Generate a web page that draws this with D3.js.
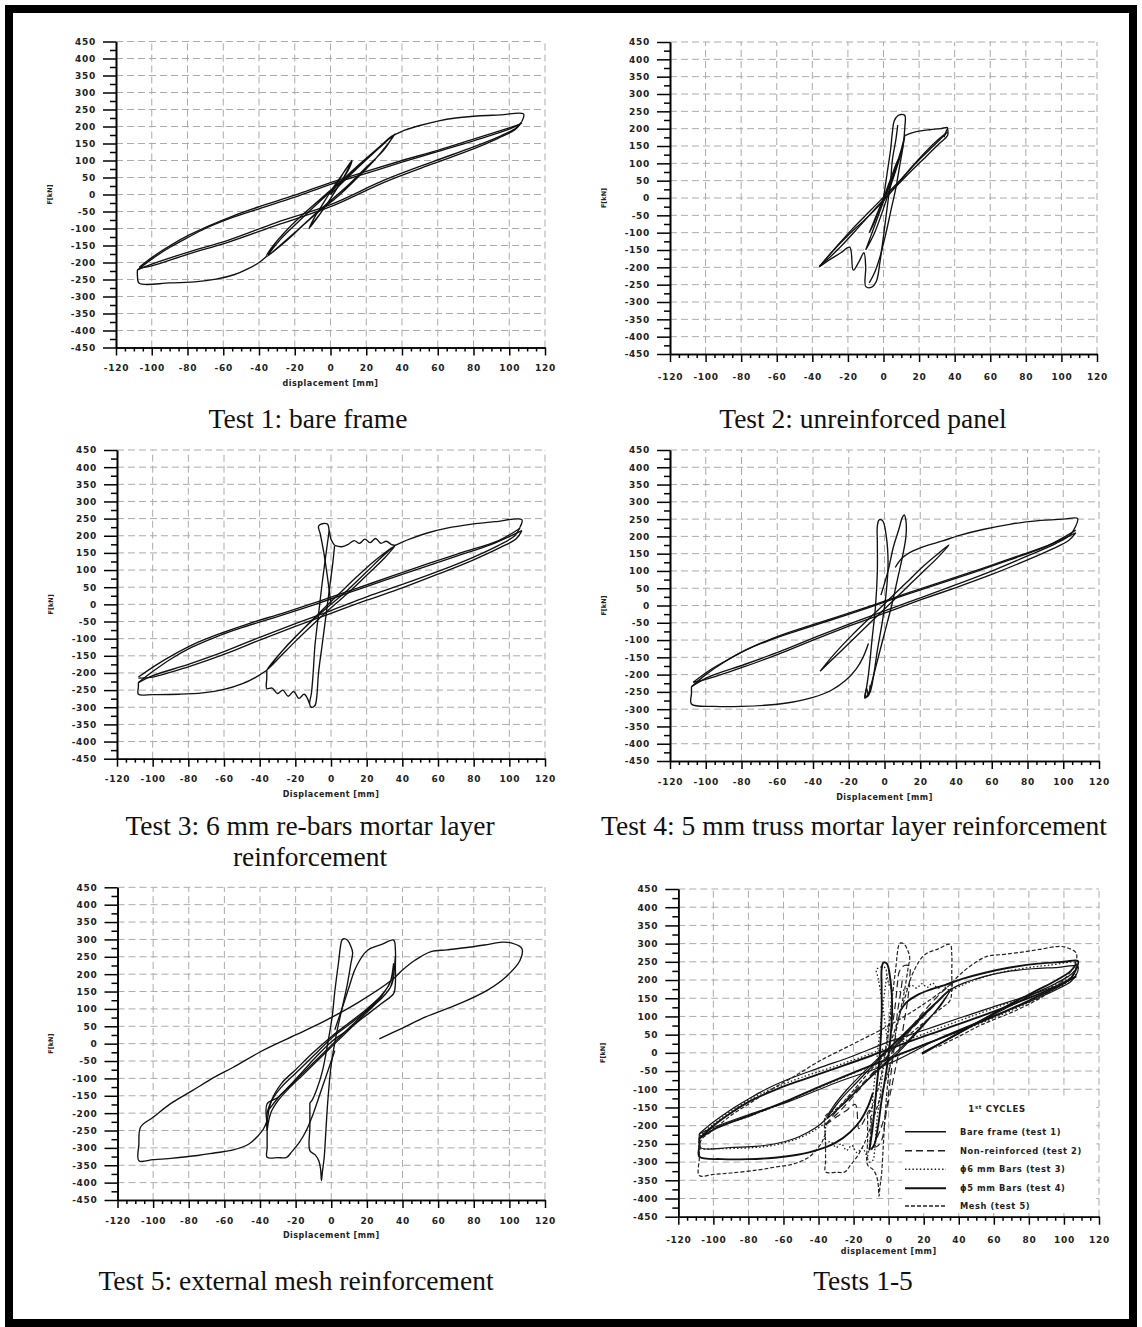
<!DOCTYPE html>
<html><head><meta charset="utf-8">
<script src="https://cdn.jsdelivr.net/npm/d3@7"></script>
<style>body{margin:0;background:#fff}svg{display:block}</style>
</head><body>
<svg id="c" width="1142" height="1327"></svg>
<script>
// ---------- tick labels ----------
const forceTicks = [-450,-400,-350,-300,-250,-200,-150,-100,-50,0,50,100,150,200,250,300,350,400,450];
const dispTicks = [-120,-100,-80,-60,-40,-20,0,20,40,60,80,100,120];

// ---------- Test 1: bare frame (displacement mm, force kN) ----------
const t1Tiny = [[0,0],[4,35],[8,70],[12,100],[10,72],[6,38],[2,5],[-2,-28],[-6,-58],[-10,-85],[-12,-100],[-9,-68],[-5,-34],[-1,0],[3,32],[7,62],[11,92],[12,100],[9,66],[5,30],[1,-4],[-3,-36],[-7,-66],[-11,-94]];
const t1Small = [[0,0],[10,52],[20,102],[30,150],[36,178],[32,148],[24,98],[14,44],[4,-6],[-6,-48],[-16,-94],[-26,-142],[-36,-183],[-32,-150],[-24,-102],[-14,-52],[-4,-6],[6,40],[16,88],[26,134],[35,174],[30,132],[20,80],[10,28],[0,-18],[-10,-64],[-20,-112],[-30,-158],[-35,-180],[-28,-132],[-18,-80],[-8,-30],[2,18],[12,64],[22,112],[32,160],[36,176]];
const t1BackPos = [[36,176],[42,190],[50,203],[60,216],[70,225],[82,231],[95,234],[108,237],[107,214]];
const t1BackNeg = [[-36,-183],[-40,-200],[-46,-218],[-54,-236],[-64,-249],[-76,-257],[-90,-260],[-107,-261],[-108,-240],[-108,-222]];
const t1Up1 = [[-108,-222],[-100,-190],[-90,-156],[-80,-127],[-70,-100],[-57,-72],[-40,-42],[-20,-8],[0,30],[20,62],[40,95],[57,122],[80,158],[100,192],[107,210]];
const t1Up2 = [[-107,-214],[-99,-182],[-89,-148],[-79,-119],[-68,-92],[-55,-64],[-40,-36],[-20,-2],[0,35],[20,68],[40,100],[60,130],[80,163],[100,196],[106,206]];
const t1Lo1 = [[107,214],[104,196],[95,172],[80,140],[57,96],[30,42],[0,-30],[-30,-82],[-57,-134],[-80,-170],[-100,-205],[-108,-222]];
const t1Lo2 = [[106,206],[103,190],[94,166],[80,134],[57,90],[30,36],[0,-36],[-30,-90],[-57,-140],[-80,-176],[-100,-210],[-107,-216]];
const t1Final = [[108,237],[104,215],[95,190],[82,160],[68,125],[52,85],[38,48],[26,18],[19,0]];

// ---------- Test 2: unreinforced panel ----------
const t2Tall = [[0,0],[2,70],[4,140],[5,190],[6,222],[8,237],[10,241],[12,238],[12,205],[11,150],[9,90],[7,30],[4,-40],[1,-110],[-2,-170],[-5,-215],[-8,-245]];
const t2Notch = [[-36,-198],[-30,-177],[-24,-158],[-19,-142],[-17,-208],[-14,-186],[-11,-158],[-10,-200],[-10,-255],[-7,-258],[-4,-240],[-2,-185],[0,-110],[2,-30],[4,50],[5,110],[7,170],[8,210]];
const t2Lens1 = [[-36,-198],[-28,-150],[-20,-108],[-12,-70],[-6,-40],[0,-8],[8,40],[16,90],[24,135],[30,165],[36,190]];
const t2Lens2 = [[36,200],[36,180],[32,160],[24,120],[16,80],[8,38],[0,-5],[-8,-50],[-16,-96],[-24,-140],[-30,-170],[-36,-196]];
const t2Lens3 = [[-35,-192],[-26,-138],[-18,-92],[-10,-50],[0,2],[10,55],[20,110],[28,150],[35,185]];
const t2Top = [[12,180],[16,188],[20,193],[26,197],[32,200],[36,203],[35,190],[34,175]];
const t2Mid = [[-10,-150],[-5,-80],[0,-10],[5,60],[10,140],[12,180],[10,130],[5,50],[0,-30],[-5,-100],[-10,-150]];
const t2Small = [[-8,-100],[-4,-50],[0,0],[4,55],[8,110],[6,70],[2,20],[-2,-30],[-6,-80],[-8,-100]];

// ---------- Test 3: 6 mm re-bars ----------
const t3Tall = [[0,0],[-2,80],[-4,150],[-6,205],[-7,228],[-5,235],[-2,234],[-1,215],[0,190],[2,172]];
const t3PlatPos = [[2,172],[6,168],[10,176],[13,186],[16,178],[19,190],[22,180],[25,192],[28,178],[31,184],[34,174],[36,172]];
const t3TallDown = [[-1,215],[-3,140],[-5,60],[-7,-30],[-9,-120],[-10,-200],[-11,-260],[-12,-290],[-11,-300],[-9,-295],[-8,-270],[-7,-200],[-5,-120],[-3,-40],[-1,40],[1,120],[2,170]];
const t3PlatNeg = [[-12,-290],[-15,-262],[-18,-274],[-21,-254],[-24,-268],[-27,-250],[-30,-260],[-33,-244],[-36,-246],[-36,-215],[-36,-192]];
const t3Lens = [[-36,-192],[-28,-140],[-20,-95],[-10,-45],[0,0],[10,45],[20,95],[30,145],[36,172],[30,135],[20,85],[10,35],[0,-10],[-10,-58],[-20,-108],[-28,-150],[-36,-192],[-26,-128],[-16,-74],[-6,-22],[4,28],[14,78],[24,125],[34,165]];
const t3BackPos = [[36,172],[44,190],[54,208],[65,222],[78,233],[92,241],[107,247],[106,225]];
const t3BackNeg = [[-36,-192],[-42,-212],[-50,-232],[-60,-248],[-72,-258],[-85,-262],[-100,-263],[-108,-262],[-108,-240],[-108,-228]];
const t3Up1 = [[-108,-228],[-100,-196],[-90,-160],[-78,-125],[-65,-96],[-50,-68],[-30,-36],[-10,-2],[10,34],[30,70],[50,105],[70,140],[90,175],[107,215]];
const t3Up2 = [[-108,-212],[-99,-180],[-88,-146],[-76,-114],[-62,-85],[-46,-56],[-26,-24],[-6,10],[14,46],[34,82],[54,118],[74,152],[94,186],[106,222]];
const t3Lo1 = [[106,225],[103,200],[94,172],[80,138],[60,96],[40,58],[20,22],[0,-18],[-20,-56],[-40,-96],[-60,-138],[-80,-175],[-100,-208],[-108,-228]];
const t3Lo2 = [[107,215],[104,192],[95,166],[80,130],[60,88],[40,48],[20,12],[0,-26],[-20,-64],[-40,-104],[-60,-146],[-80,-182],[-100,-212],[-108,-215]];

// ---------- Test 4: 5 mm truss ----------
const t4TallA = [[-11,-268],[-9,-200],[-7,-100],[-5,0],[-4,100],[-4,180],[-4,230],[-3,248],[-1,245],[1,200],[2,120],[1,40],[-1,-40],[-4,-130],[-6,-200],[-8,-250],[-10,-266]];
const t4TallB = [[-2,30],[2,100],[5,170],[8,220],[10,255],[11,262],[12,245],[12,200],[10,140],[7,70],[4,0],[0,-80],[-4,-160],[-7,-220],[-9,-255],[-11,-268],[-10,-240],[-9,-262],[-8,-230]];
const t4Lens = [[-36,-190],[-28,-140],[-18,-85],[-8,-35],[2,15],[12,65],[22,115],[30,150],[36,175],[30,140],[20,90],[10,40],[0,-10],[-10,-60],[-20,-110],[-30,-160],[-36,-190]];
const t4BackPos = [[6,110],[10,138],[16,158],[24,174],[32,186],[42,203],[55,220],[70,235],[85,245],[100,250],[108,252],[107,230]];
const t4BackNeg = [[-9,-110],[-12,-150],[-16,-185],[-22,-218],[-30,-246],[-40,-266],[-52,-280],[-65,-288],[-80,-292],[-95,-292],[-108,-285],[-108,-255],[-108,-235]];
const t4Up1 = [[-108,-235],[-100,-200],[-90,-165],[-78,-130],[-64,-100],[-48,-72],[-30,-42],[-10,-8],[10,28],[30,62],[50,96],[70,132],[90,170],[107,210]];
const t4Up2 = [[-107,-222],[-98,-188],[-86,-152],[-74,-120],[-60,-90],[-44,-62],[-26,-32],[-6,2],[14,38],[34,72],[54,106],[74,142],[94,180],[107,218]];
const t4Lo1 = [[107,230],[104,205],[96,180],[82,148],[62,104],[42,64],[22,26],[2,-12],[-18,-50],[-38,-90],[-58,-132],[-78,-170],[-98,-206],[-108,-235]];
const t4Lo2 = [[107,210],[103,188],[94,164],[80,132],[60,90],[40,52],[20,16],[0,-22],[-20,-60],[-40,-100],[-60,-142],[-80,-180],[-100,-214],[-107,-222]];
const t4Final = [[107,245],[104,225],[96,200],[84,170],[70,135],[55,95],[40,55],[28,22],[19,-3]];

// ---------- Test 5: external mesh ----------
const t5Big = [[-36,-221],[-38,-245],[-41,-265],[-46,-288],[-55,-306],[-65,-314],[-75,-322],[-90,-330],[-100,-334],[-108,-337],[-108,-290],[-107,-240],[-100,-212],[-90,-172],[-78,-135],[-65,-95],[-55,-68],[-40,-24],[-20,25],[-3,67],[15,118],[34,183],[40,212],[47,240],[56,265],[65,270],[75,276],[86,284],[96,292],[101,290],[107,274],[106,240],[98,192],[88,155],[72,115],[53,77],[40,45],[27,14]];
const t5Cyc36 = [[2,40],[6,100],[10,163],[13,210],[16,240],[19,262],[22,274],[28,285],[35,298],[36,270],[36,220],[36,175],[35,144],[28,115],[18,75],[8,35],[0,5],[-8,-35],[-16,-80],[-24,-125],[-30,-155],[-36,-173],[-36,-240],[-36,-300],[-36,-327],[-30,-328],[-25,-327],[-22,-310],[-18,-285],[-14,-250],[-10,-200],[-6,-140],[-2,-80],[2,-20]];
const t5Lens1 = [[-36,-250],[-34,-200],[-30,-165],[-24,-130],[-16,-90],[-8,-50],[0,-10],[8,30],[16,70],[24,110],[30,140],[34,170],[36,250],[35,200],[33,160],[28,130],[20,95],[10,55],[0,15],[-10,-35],[-20,-85],[-28,-125],[-33,-160],[-36,-200],[-36,-250]];
const t5Lens2 = [[-35,-190],[-28,-145],[-20,-105],[-10,-55],[0,-5],[10,45],[20,95],[28,135],[34,190],[35,230],[33,175],[28,138],[20,100],[10,60],[0,20],[-10,-25],[-20,-75],[-28,-115],[-34,-170],[-36,-230]];
const t5Tall = [[-12,-170],[-12,-240],[-12,-308],[-9,-320],[-7,-337],[-6,-360],[-5.5,-394],[-5,-370],[-4,-330],[-3,-250],[-2,-170],[0,-60],[3,30],[6,100],[9,170],[11,230],[12,262],[11,280],[9,298],[7,302],[6,298],[4,230],[2,150],[0.5,77],[-2,0],[-5,-80],[-8,-130],[-11,-165],[-12,-170]];

// ---------- grouping ----------
const test1Paths = [t1Tiny,t1Small,t1BackPos,t1BackNeg,t1Up1,t1Up2,t1Lo1,t1Lo2];
const test2Paths = [t2Tall,t2Notch,t2Lens1,t2Lens2,t2Lens3,t2Top,t2Mid,t2Small];
const test3Paths = [t3Tall,t3PlatPos,t3TallDown,t3PlatNeg,t3Lens,t3BackPos,t3BackNeg,t3Up1,t3Up2,t3Lo1,t3Lo2];
const test4Paths = [t4TallA,t4TallB,t4Lens,t4BackPos,t4BackNeg,t4Up1,t4Up2,t4Lo1,t4Lo2];
const test5Paths = [t5Big,t5Cyc36,t5Lens1,t5Lens2,t5Tall];

const first1 = [t1Small,t1BackPos,t1BackNeg,t1Up1,t1Lo1,t1Final];
const first2 = [t2Tall,t2Notch,t2Lens1,t2Lens2];
const first3 = [t3Tall,t3PlatPos,t3TallDown,t3PlatNeg,t3BackPos,t3BackNeg,t3Up1,t3Lo1];
const first4 = [t4TallA,t4BackPos,t4BackNeg,t4Up1,t4Lo1,t4Final];
const first5 = [t5Big,t5Cyc36,t5Tall];

const legendNames = ['Bare frame (test 1)','Non-reinforced (test 2)','\u03d56 mm Bars (test 3)','\u03d55 mm Bars (test 4)','Mesh (test 5)'];

const styles = {
  plain:{w:1.35,dash:null,c:'#111'},
  s1:{w:1.2,dash:null,c:'#111'},
  s2:{w:1.2,dash:'7,4',c:'#222'},
  s3:{w:1.3,dash:'1.5,2.2',c:'#222'},
  s4:{w:1.9,dash:null,c:'#111'},
  s5:{w:1.2,dash:'4,2',c:'#222'}
};

const panels = [
  {x0:116,x1:545,y0:41.5,y1:347.5,fx:50,xl:'displacement [mm]',xlDy:36,tkDy:20,title:['Test 1: bare frame'],tx:308,ty:[428],
   series:[{paths:test1Paths,st:'plain'}]},
  {x0:670,x1:1097,y0:42,y1:354,fx:604,xl:null,xlDy:36,tkDy:23,title:['Test 2: unreinforced panel'],tx:863,ty:[428],
   series:[{paths:test2Paths,st:'plain'}]},
  {x0:117,x1:545,y0:450,y1:758.7,fx:51,xl:'Displacement [mm]',xlDy:35,tkDy:20,title:['Test 3: 6 mm re-bars mortar layer','reinforcement'],tx:310,ty:[835,866],
   series:[{paths:test3Paths,st:'plain'}]},
  {x0:670,x1:1099,y0:450,y1:761,fx:604,xl:'Displacement [mm]',xlDy:36,tkDy:21,title:['Test 4: 5 mm truss mortar layer reinforcement'],tx:854,ty:[835],
   series:[{paths:test4Paths,st:'plain'}]},
  {x0:117.5,x1:545,y0:887.3,y1:1200,fx:51,xl:'Displacement [mm]',xlDy:35,tkDy:21,title:['Test 5: external mesh reinforcement'],tx:296,ty:[1290],
   series:[{paths:test5Paths,st:'plain'}]},
  {x0:678.3,x1:1099,y0:889,y1:1216.7,fx:603,xl:'displacement [mm]',xlDy:34,tkDy:23,title:['Tests 1-5'],tx:863,ty:[1290],legend:true,
   series:[{paths:first1,st:'s1'},{paths:first2,st:'s2'},{paths:first3,st:'s3'},{paths:first4,st:'s4'},{paths:first5,st:'s5'}]}
];

const svg = d3.select('#c');
svg.append('rect').attr('width',1142).attr('height',1327).attr('fill','#fff');
svg.append('rect').attr('x',9).attr('y',9).attr('width',1124).attr('height',1314)
  .attr('fill','none').attr('stroke','#000').attr('stroke-width',8);

const tickFont = 'DejaVu Sans, Verdana, sans-serif';

function drawPanel(p){
  const x = d3.scaleLinear().domain([-120,120]).range([p.x0,p.x1]);
  const y = d3.scaleLinear().domain([-450,450]).range([p.y1,p.y0]);
  const g = svg.append('g');
  // grid
  g.append('g').selectAll('line').data(forceTicks.filter(v=>v>-450)).join('line')
    .attr('x1',p.x0).attr('x2',p.x1).attr('y1',d=>y(d)).attr('y2',d=>y(d))
    .attr('stroke','#ababab').attr('stroke-width',1).attr('stroke-dasharray','7,4');
  g.append('g').selectAll('line').data(dispTicks.filter(v=>v>-120)).join('line')
    .attr('y1',p.y1).attr('y2',p.y0).attr('x1',d=>x(d)).attr('x2',d=>x(d))
    .attr('stroke','#ababab').attr('stroke-width',1).attr('stroke-dasharray','7,4');

  if(p.legend){
    g.append('rect').attr('x',902).attr('y',1097).attr('width',193).attr('height',116).attr('fill','#fff');
  }

  const line = d3.line().x(d=>x(d[0])).y(d=>y(d[1])).curve(d3.curveCatmullRom.alpha(0.5));
  p.series.forEach(s=>{
    const st = styles[s.st];
    g.append('g').selectAll('path').data(s.paths).join('path')
      .attr('d',line).attr('fill','none').attr('stroke',st.c).attr('stroke-width',st.w)
      .attr('stroke-linejoin','round').attr('stroke-dasharray',st.dash);
  });

  // axes
  const minorF = d3.range(-425,450,50);
  const minorX = d3.range(-120,121,5).filter(v=>v%20!==0);
  const fmt = d=>String(d);
  const gy = g.append('g').attr('transform',`translate(${p.x0},0)`)
    .call(d3.axisLeft(y).tickValues(forceTicks).tickFormat(fmt).tickSize(13).tickSizeOuter(0).tickPadding(7));
  g.append('g').attr('transform',`translate(${p.x0},0)`)
    .call(d3.axisLeft(y).tickValues(minorF).tickSize(6).tickSizeOuter(0).tickFormat(''));
  const gx = g.append('g').attr('transform',`translate(0,${p.y1})`)
    .call(d3.axisBottom(x).tickValues(dispTicks).tickFormat(fmt).tickSize(8).tickSizeOuter(0));
  g.append('g').attr('transform',`translate(0,${p.y1})`)
    .call(d3.axisBottom(x).tickValues(minorX).tickSize(4).tickSizeOuter(0).tickFormat(''));
  g.selectAll('.domain').attr('stroke','#000').attr('stroke-width',1.6);
  g.selectAll('.tick line').attr('stroke','#000').attr('stroke-width',1.5);
  gy.selectAll('text').attr('font-family',tickFont).attr('font-weight','bold').attr('font-size','9px')
    .attr('letter-spacing','0.7px').attr('fill','#222');
  gx.selectAll('text').attr('font-family',tickFont).attr('font-weight','bold').attr('font-size','9px')
    .attr('letter-spacing','0.7px').attr('fill','#222').attr('y',p.tkDy).attr('dy','0.35em');

  svg.append('text').attr('transform',`translate(${p.fx},${y(0)}) rotate(-90)`)
    .attr('text-anchor','middle').attr('dy','0.35em')
    .attr('font-family',tickFont).attr('font-weight','bold').attr('font-size','6.5px').attr('fill','#222')
    .text('F[kN]');
  if(p.xl){
    svg.append('text').attr('x',x(0)).attr('y',p.y1+p.xlDy).attr('dy','0.35em').attr('text-anchor','middle')
      .attr('font-family',tickFont).attr('font-weight','bold').attr('font-size','8px').attr('letter-spacing','0.5px')
      .attr('fill','#222').text(p.xl);
  }
  p.title.forEach((t,i)=>{
    svg.append('text').attr('x',p.tx).attr('y',p.ty[i]).attr('text-anchor','middle')
      .attr('font-family','Liberation Serif, Times New Roman, serif').attr('font-size','27.5px').attr('fill','#111')
      .text(t);
  });

  if(p.legend){
    const lg = svg.append('g');
    const tt = lg.append('text').attr('x',997).attr('y',1112).attr('text-anchor','middle')
      .attr('font-family',tickFont).attr('font-weight','bold').attr('font-size','8.5px').attr('letter-spacing','0.7px').attr('fill','#222');
    tt.append('tspan').text('1');
    tt.append('tspan').attr('font-size','5.5px').attr('dy','-3').text('st');
    tt.append('tspan').attr('dy','3').text(' CYCLES');
    const rowsY = [1131.7,1150.7,1169.3,1188.3,1206];
    const keys = ['s1','s2','s3','s4','s5'];
    legendNames.forEach((n,i)=>{
      const st = styles[keys[i]];
      lg.append('line').attr('x1',905).attr('x2',946).attr('y1',rowsY[i]).attr('y2',rowsY[i])
        .attr('stroke',st.c).attr('stroke-width',st.w+0.2).attr('stroke-dasharray',st.dash);
      lg.append('text').attr('x',960).attr('y',rowsY[i]).attr('dy','0.35em')
        .attr('font-family',tickFont).attr('font-weight','bold').attr('font-size','8.3px').attr('letter-spacing','0.6px')
        .attr('fill','#222').text(n);
    });
  }
}
panels.forEach(drawPanel);
</script>
</body></html>
